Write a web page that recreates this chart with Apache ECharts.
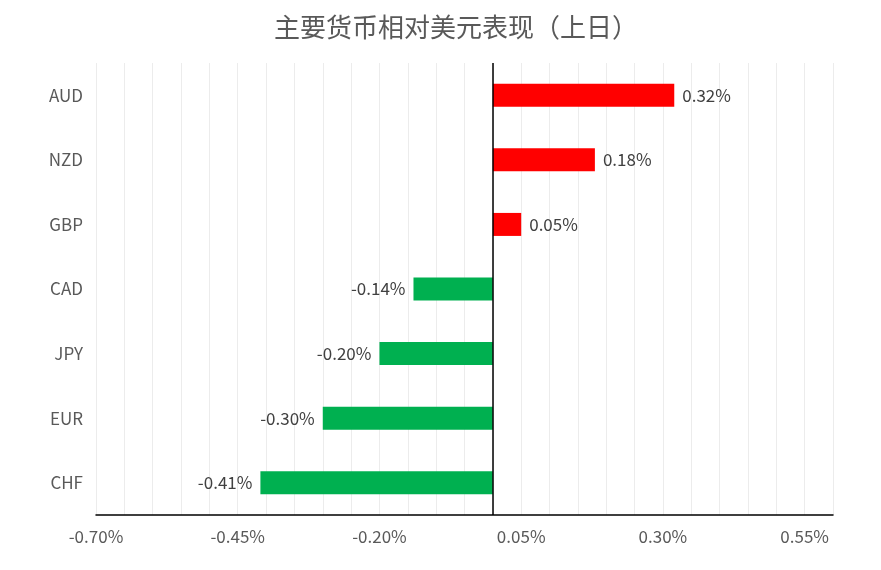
<!DOCTYPE html>
<html>
<head>
<meta charset="utf-8">
<script src="https://cdn.jsdelivr.net/npm/echarts@6/dist/echarts.min.js"></script>
<style>
html, body { margin: 0; padding: 0; background: #fff; }
#chartArea { width: 881px; height: 570px; }
</style>
</head>
<body>
<div id="chartArea"></div>
<script>
var currencies = ['AUD', 'NZD', 'GBP', 'CAD', 'JPY', 'EUR', 'CHF'];
var changes = [0.32, 0.18, 0.05, -0.14, -0.20, -0.30, -0.41];

var labelFont = '"Noto Sans CJK SC", "Noto Sans", sans-serif';

var myChart = echarts.init(document.getElementById('chartArea'));

myChart.setOption({
    backgroundColor: '#ffffff',
    animation: false,
    title: {
        text: '主要货币相对美元表现（上日）',
        left: 269,
        top: 9,
        textStyle: {
            color: '#595959',
            fontSize: 26,
            fontWeight: 'normal',
            fontFamily: labelFont
        }
    },
    grid: { left: 96, right: 48, top: 63, bottom: 55 },
    xAxis: {
        type: 'value',
        min: -0.7,
        max: 0.6,
        interval: 0.05,
        axisLine: { show: true, onZero: false, lineStyle: { color: '#000000', width: 1.5 } },
        axisTick: { show: false },
        splitLine: { show: true, lineStyle: { color: '#ececec', width: 1 } },
        axisLabel: {
            color: '#595959',
            fontSize: 17,
            fontFamily: labelFont,
            margin: 13,
            showMaxLabel: false,
            formatter: function(v) {
                var k = Math.round((v + 0.7) / 0.05);
                return k % 5 === 0 ? v.toFixed(2) + '%' : '';
            }
        }
    },
    yAxis: {
        type: 'category',
        data: currencies,
        inverse: true,
        axisLine: { show: false },
        axisTick: { show: false },
        axisLabel: {
            color: '#595959',
            fontSize: 17,
            fontFamily: labelFont,
            margin: 13
        }
    },
    series: [{
        type: 'bar',
        barWidth: 23,
        data: changes.map(function(v) {
            return {
                value: v,
                label: { position: v >= 0 ? 'right' : 'left' }
            };
        }),
        itemStyle: {
            color: function(p) {
                return p.value >= 0 ? '#ff0000' : '#00b050';
            }
        },
        label: {
            show: true,
            distance: 8,
            color: '#404040',
            fontSize: 17,
            fontFamily: labelFont,
            formatter: function(p) {
                return p.value.toFixed(2) + '%';
            }
        },
        markLine: {
            silent: true,
            symbol: 'none',
            label: { show: false },
            lineStyle: { color: '#000000', width: 1.5, type: 'solid' },
            data: [{ xAxis: 0 }]
        }
    }]
});
</script>
</body>
</html>
